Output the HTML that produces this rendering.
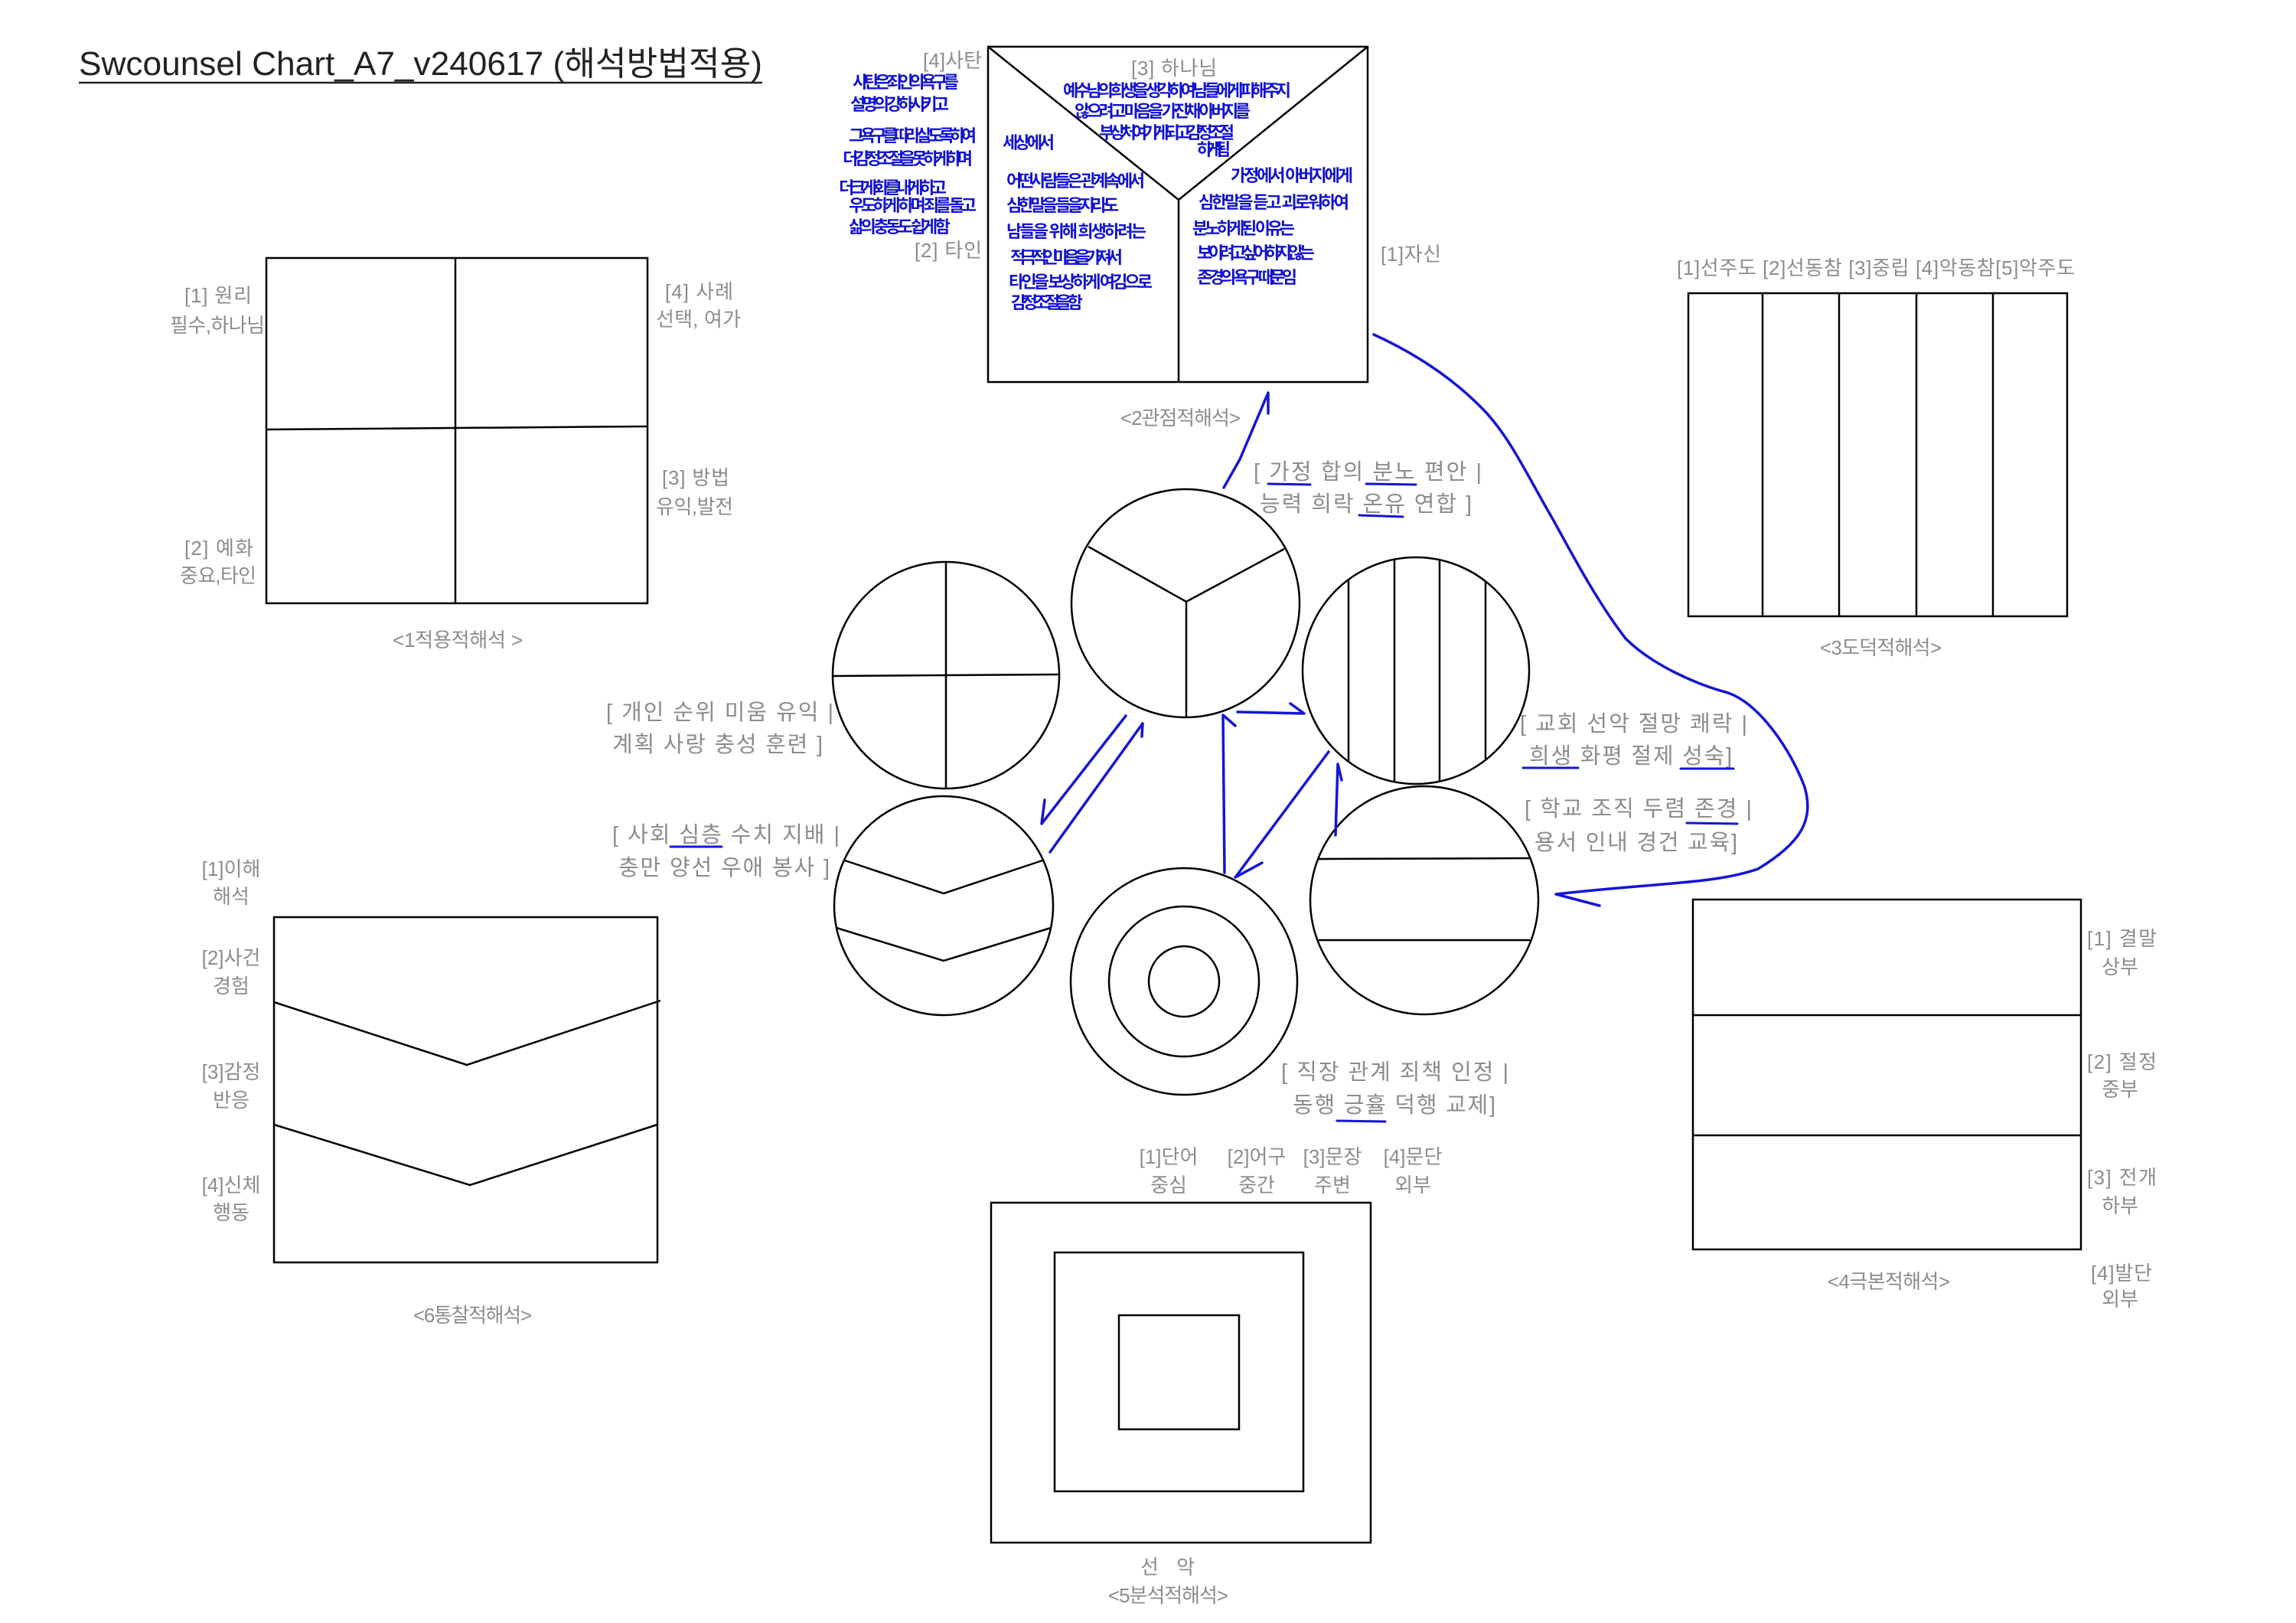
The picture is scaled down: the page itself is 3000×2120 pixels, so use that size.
<!DOCTYPE html>
<html><head><meta charset="utf-8"><style>
html,body{margin:0;padding:0;background:#fff;}
svg{display:block;}
.g{font-family:"Liberation Sans","Noto Sans CJK KR",sans-serif;fill:#8c8c8c;font-size:26px;}
.p{font-family:"Liberation Sans","Noto Sans CJK KR",sans-serif;fill:#8c8c8c;font-size:29px;}
.h{font-family:"Liberation Sans","Noto Sans CJK KR",sans-serif;fill:#1212d2;font-size:22px;font-weight:bold;}
.k{stroke:#000;stroke-width:2.5;fill:none;}
.b{stroke:#1515d5;stroke-width:3.5;fill:none;stroke-linecap:round;stroke-linejoin:round;}
</style></head><body>
<svg width="3000" height="2120" viewBox="0 0 3000 2120" xmlns="http://www.w3.org/2000/svg">
<rect width="3000" height="2120" fill="#fff"/>
<text x="103" y="98" font-family="Liberation Sans,Noto Sans CJK KR,sans-serif" font-size="44" fill="#222" textLength="893" lengthAdjust="spacingAndGlyphs">Swcounsel Chart_A7_v240617 (해석방법적용)</text>
<line x1="103" y1="108" x2="996" y2="108" stroke="#222" stroke-width="2.5"/>

<rect class="k" x="348" y="337" width="498" height="451"/>
<line class="k" x1="595" y1="337" x2="595" y2="788"/>
<line class="k" x1="348" y1="561" x2="846" y2="557"/>
<text class="g" x="241" y="395" textLength="88">[1] 원리</text>
<text class="g" x="222" y="434" textLength="124">필수,하나님</text>
<text class="g" x="869" y="390" textLength="89">[4] 사례</text>
<text class="g" x="857" y="426" textLength="111">선택, 여가</text>
<text class="g" x="865" y="633" textLength="88">[3] 방법</text>
<text class="g" x="857" y="671" textLength="101">유익,발전</text>
<text class="g" x="241" y="725" textLength="90">[2] 예화</text>
<text class="g" x="235" y="761" textLength="100">중요,타인</text>
<text class="g" x="513" y="845" textLength="170">&lt;1적용적해석 &gt;</text>

<rect class="k" x="1291" y="61" width="496" height="438"/>
<polyline class="k" points="1291,61 1540,261 1787,61"/>
<line class="k" x1="1540" y1="261" x2="1540" y2="499"/>
<text class="g" x="1206" y="88" textLength="77">[4]사탄</text>
<text class="g" x="1478" y="98" textLength="112">[3] 하나님</text>
<text class="g" x="1195" y="336" textLength="88">[2] 타인</text>
<text class="g" x="1804" y="341" textLength="79">[1]자신</text>
<text class="g" x="1464" y="555" textLength="157">&lt;2관점적해석&gt;</text>
<text class="h" x="1114" y="115" textLength="139">사탄은 죄인의 욕구를</text>
<text class="h" x="1111" y="144" textLength="129">설명의 강하시키고</text>
<text class="h" x="1109" y="185" textLength="167">그 욕구를 따라 살도록하여</text>
<text class="h" x="1101" y="215" textLength="170">더 감정조절을 못하게하며</text>
<text class="h" x="1096" y="253" textLength="141">더크게 화를 내게 하고</text>
<text class="h" x="1109" y="276" textLength="167">우도하게 하며 죄를 돌고</text>
<text class="h" x="1109" y="304" textLength="133">삶의 충동도 쉽게 함</text>
<text class="h" x="1389" y="126" textLength="298">예수님의 희생을 생각하여 남들에게 피해 주지</text>
<text class="h" x="1404" y="153" textLength="230">않으려고 마음을 가진채 아버지를</text>
<text class="h" x="1436" y="181" textLength="177">부상처 여기게 되고 감정조절</text>
<text class="h" x="1564" y="203" textLength="44">하게 됨</text>
<text class="h" x="1310" y="194" textLength="68">세상에서</text>
<text class="h" x="1315" y="244" textLength="181">어떤사람들은 관계속에서</text>
<text class="h" x="1315" y="276" textLength="147">심한말을 들을지라도</text>
<text class="h" x="1315" y="310" textLength="183">남들을 위해 희생하려는</text>
<text class="h" x="1320" y="344" textLength="147">적극적인 마음을 가져서</text>
<text class="h" x="1318" y="376" textLength="188">타인을 보상하게 여김으로</text>
<text class="h" x="1321" y="403" textLength="94">감정조절을 함</text>
<text class="h" x="1608" y="237" textLength="160">가정에서 아버지에게</text>
<text class="h" x="1566" y="272" textLength="197">심한말을 듣고 괴로워하여</text>
<text class="h" x="1558" y="306" textLength="134">분노하게된 이유는</text>
<text class="h" x="1564" y="338" textLength="154">보이려고싶어 하지 않는</text>
<text class="h" x="1564" y="370" textLength="131">존경의 욕구 때문임</text>

<rect class="k" x="2206" y="383" width="495" height="422"/>
<line class="k" x1="2303" y1="383" x2="2303" y2="805"/>
<line class="k" x1="2403" y1="383" x2="2403" y2="805"/>
<line class="k" x1="2504" y1="383" x2="2504" y2="805"/>
<line class="k" x1="2604" y1="383" x2="2604" y2="805"/>
<text class="g" x="2191" y="359" textLength="520">[1]선주도 [2]선동참 [3]중립 [4]악동참[5]악주도</text>
<text class="g" x="2378" y="855" textLength="159">&lt;3도덕적해석&gt;</text>

<rect class="k" x="2212" y="1175" width="507" height="457"/>
<line class="k" x1="2212" y1="1326" x2="2719" y2="1326"/>
<line class="k" x1="2212" y1="1483" x2="2719" y2="1483"/>
<text class="g" x="2727" y="1235" textLength="91">[1] 결말</text>
<text class="g" x="2770" y="1272" text-anchor="middle">상부</text>
<text class="g" x="2727" y="1396" textLength="91">[2] 절정</text>
<text class="g" x="2770" y="1432" text-anchor="middle">중부</text>
<text class="g" x="2727" y="1547" textLength="91">[3] 전개</text>
<text class="g" x="2770" y="1584" text-anchor="middle">하부</text>
<text class="g" x="2732" y="1672" textLength="80">[4]발단</text>
<text class="g" x="2770" y="1706" text-anchor="middle">외부</text>
<text class="g" x="2388" y="1683" textLength="160">&lt;4극본적해석&gt;</text>

<rect class="k" x="1295" y="1571" width="496" height="444"/>
<rect class="k" x="1378" y="1636" width="325" height="312"/>
<rect class="k" x="1462" y="1718" width="157" height="149"/>
<text class="g" x="1527" y="1520" text-anchor="middle">[1]단어</text>
<text class="g" x="1527" y="1557" text-anchor="middle">중심</text>
<text class="g" x="1642" y="1520" text-anchor="middle">[2]어구</text>
<text class="g" x="1642" y="1557" text-anchor="middle">중간</text>
<text class="g" x="1741" y="1520" text-anchor="middle">[3]문장</text>
<text class="g" x="1741" y="1557" text-anchor="middle">주변</text>
<text class="g" x="1846" y="1520" text-anchor="middle">[4]문단</text>
<text class="g" x="1846" y="1557" text-anchor="middle">외부</text>
<text class="g" x="1490" y="2056" textLength="71">선   악</text>
<text class="g" x="1448" y="2093" textLength="157">&lt;5분석적해석&gt;</text>

<rect class="k" x="358" y="1198" width="501" height="451"/>
<polyline class="k" points="358,1309 610,1391 863,1307"/>
<polyline class="k" points="358,1469 614,1548 859,1469"/>
<text class="g" x="302" y="1144" text-anchor="middle">[1]이해</text>
<text class="g" x="302" y="1180" text-anchor="middle">해석</text>
<text class="g" x="302" y="1260" text-anchor="middle">[2]사건</text>
<text class="g" x="302" y="1297" text-anchor="middle">경험</text>
<text class="g" x="302" y="1409" text-anchor="middle">[3]감정</text>
<text class="g" x="302" y="1446" text-anchor="middle">반응</text>
<text class="g" x="302" y="1557" text-anchor="middle">[4]신체</text>
<text class="g" x="302" y="1593" text-anchor="middle">행동</text>
<text class="g" x="540" y="1727" textLength="155">&lt;6통찰적해석&gt;</text>

<circle class="k" cx="1236" cy="882" r="148"/>
<line class="k" x1="1236" y1="734" x2="1236" y2="1030"/>
<line class="k" x1="1088" y1="883" x2="1384" y2="881"/>

<circle class="k" cx="1549" cy="788" r="149"/>
<polyline class="k" points="1422,714 1550,786 1678,717"/>
<line class="k" x1="1550" y1="786" x2="1550" y2="937"/>

<circle class="k" cx="1850" cy="876" r="148"/>
<line class="k" x1="1762" y1="757" x2="1762" y2="995"/>
<line class="k" x1="1822" y1="731" x2="1822" y2="1021"/>
<line class="k" x1="1881" y1="731" x2="1881" y2="1021"/>
<line class="k" x1="1941" y1="759" x2="1941" y2="993"/>

<circle class="k" cx="1233" cy="1183" r="143"/>
<polyline class="k" points="1104,1124 1233,1167 1362,1124"/>
<polyline class="k" points="1093,1212 1233,1255 1373,1212"/>

<circle class="k" cx="1547" cy="1282" r="148"/>
<circle class="k" cx="1547" cy="1282" r="98"/>
<circle class="k" cx="1547" cy="1282" r="46"/>

<circle class="k" cx="1861" cy="1176" r="149"/>
<line class="k" x1="1723" y1="1122" x2="1999" y2="1121"/>
<line class="k" x1="1723" y1="1228" x2="1999" y2="1228"/>

<path class="b" d="M1471,935 L1361,1076 L1365,1045"/>
<path class="b" d="M1372,1113 L1493,945 L1492,962"/>
<path class="b" d="M1600,1140 L1598,934 L1614,948"/>
<path class="b" d="M1617,930 L1704,932 L1686,919"/>
<path class="b" d="M1736,982 L1614,1146 L1649,1127"/>
<path class="b" d="M1745,1091 L1748,998 L1753,1019"/>
<path class="b" d="M1599,637 L1620,600 L1657,513 L1657,540"/>
<path class="b" d="M1795,437 C1850,462 1900,495 1941,538 C1975,575 1995,620 2030,680 C2060,735 2090,790 2124,834 C2160,870 2220,895 2258,905 C2300,920 2340,980 2358,1028 C2370,1070 2355,1100 2297,1135 C2240,1155 2163,1153 2033,1168 L2090,1183"/>

<text class="p" x="1638" y="626" textLength="298">[ 가정 합의 분노 편안 |</text>
<text class="p" x="1646" y="668" textLength="277">능력 희락 온유 연합 ]</text>
<text class="p" x="792" y="940" textLength="297">[ 개인 순위 미움 유익 |</text>
<text class="p" x="800" y="982" textLength="275">계획 사랑 충성 훈련 ]</text>
<text class="p" x="800" y="1100" textLength="297">[ 사회 심층 수치 지배 |</text>
<text class="p" x="808" y="1143" textLength="276">충만 양선 우애 봉사 ]</text>
<text class="p" x="1986" y="955" textLength="297">[ 교회 선악 절망 쾌락 |</text>
<text class="p" x="1998" y="997" textLength="265">희생 화평 절제 성숙]</text>
<text class="p" x="1992" y="1066" textLength="297">[ 학교 조직 두렴 존경 |</text>
<text class="p" x="2005" y="1110" textLength="265">용서 인내 경건 교육]</text>
<text class="p" x="1674" y="1410" textLength="297">[ 직장 관계 죄책 인정 |</text>
<text class="p" x="1689" y="1453" textLength="265">동행 긍휼 덕행 교제]</text>
<g class="b" style="stroke-width:3">
<line x1="1657" y1="632" x2="1712" y2="633"/>
<line x1="1785" y1="632" x2="1850" y2="633"/>
<line x1="1776" y1="673" x2="1833" y2="675"/>
<line x1="876" y1="1106" x2="943" y2="1106"/>
<line x1="1990" y1="1003" x2="2062" y2="1003"/>
<line x1="2196" y1="1004" x2="2265" y2="1004"/>
<line x1="2204" y1="1075" x2="2270" y2="1076"/>
<line x1="1747" y1="1464" x2="1810" y2="1465"/>
</g>
</svg>
</body></html>
